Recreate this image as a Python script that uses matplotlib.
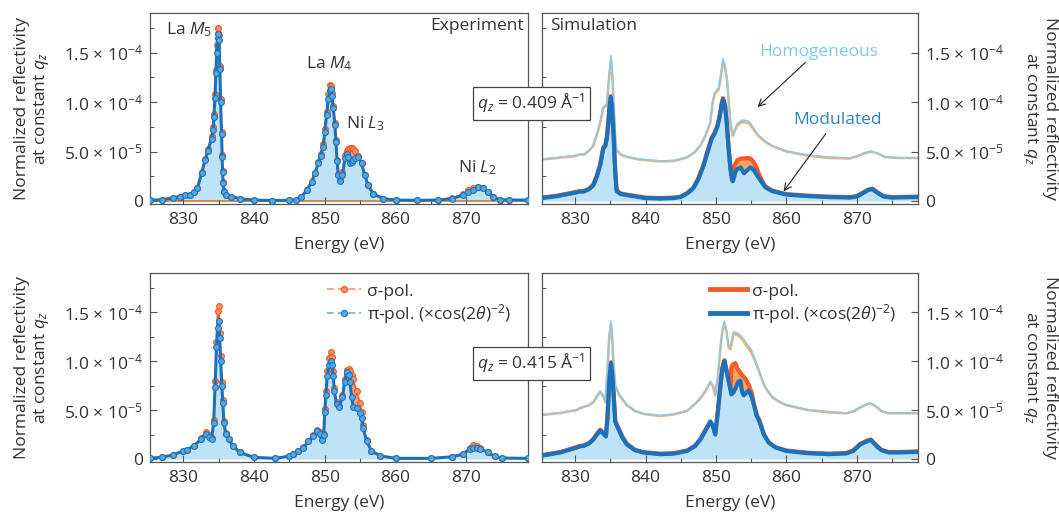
import numpy as np
import matplotlib
matplotlib.use('Agg')
import matplotlib.pyplot as plt
from matplotlib.ticker import MultipleLocator, FuncFormatter
from matplotlib.lines import Line2D

plt.rcParams['font.family'] = ['Open Sans', 'DejaVu Sans']
plt.rcParams['mathtext.fontset'] = 'custom'
plt.rcParams['mathtext.rm'] = 'Open Sans'
plt.rcParams['mathtext.it'] = 'Open Sans:italic'
plt.rcParams['mathtext.bf'] = 'Open Sans:bold'
plt.rcParams['font.size'] = 12.5

SCALE = 1e-5  # all reflectivity values below are in units of 1e-5

# ---------------- Experiment, q_z = 0.409 ----------------
E_exp_a = [825.3, 827.0, 828.5, 829.5, 830.3, 830.9, 831.5, 832.0, 832.6, 833.07, 833.5, 834.0,
           834.24, 834.34, 834.48, 834.62, 834.72, 834.85, 834.95, 835.05, 835.18, 835.28, 835.42,
           835.5, 835.56, 835.65, 835.75, 836.1, 836.8, 838.0, 840.0, 842.5, 845.0, 846.0, 846.7,
           847.43, 848.13, 848.6, 849.07, 849.4, 849.78, 850.0, 850.25, 850.5, 850.72, 850.85,
           851.0, 851.19, 851.43, 851.57, 851.75, 851.9, 852.13, 852.5, 852.84, 853.08, 853.3,
           853.54, 853.8, 854.0, 854.25, 854.7, 855.2, 855.66, 856.1, 856.84, 858.25, 860.0,
           863.0, 866.0, 868.0, 869.5, 870.3, 871.0, 871.6, 872.3, 873.0, 873.8, 874.7, 876.0, 878.7]
pi_exp_a = [0.07, 0.15, 0.3, 0.45, 0.6, 0.62, 0.9, 1.3, 2.8, 4.1, 5.1, 6.3,
            7.2, 8.5, 10.4, 12.9, 15.0, 16.5, 16.9, 16.3, 13.3, 10.0, 6.8,
            4.5, 2.9, 1.8, 0.9, 0.58, 0.45, 0.24, 0.1, 0.05, 0.07, 0.15, 0.4,
            1.1, 1.9, 2.8, 3.8, 4.6, 5.5, 7.0, 8.7, 10.3, 11.2, 11.3,
            10.6, 9.4, 7.7, 6.0, 4.0, 2.6, 2.0, 2.6, 4.3, 4.8, 4.4,
            3.8, 3.9, 4.1, 4.3, 4.5, 3.8, 2.6, 1.6, 0.75, 0.24, 0.1,
            0.07, 0.1, 0.25, 0.6, 0.95, 1.1, 1.4, 1.3, 0.9, 0.4, 0.15, 0.1, 0.1]
sig_exp_a = [0.07, 0.15, 0.3, 0.45, 0.6, 0.62, 0.9, 1.3, 2.9, 4.2, 5.3, 6.6,
             7.5, 8.8, 10.8, 13.2, 15.8, 17.0, 17.5, 16.8, 13.6, 10.3, 7.0,
             4.7, 3.0, 1.9, 1.0, 0.6, 0.45, 0.24, 0.1, 0.05, 0.07, 0.15, 0.4,
             1.1, 1.95, 2.85, 3.9, 4.8, 5.8, 7.3, 9.0, 10.8, 11.7, 11.6,
             10.9, 9.6, 7.9, 6.2, 4.1, 2.7, 2.1, 2.9, 4.7, 5.1, 5.3,
             5.4, 5.35, 5.25, 5.1, 4.6, 3.85, 2.65, 1.6, 0.75, 0.24, 0.1,
             0.07, 0.1, 0.3, 0.7, 1.1, 1.3, 1.45, 1.3, 0.9, 0.4, 0.15, 0.1, 0.1]

# ---------------- Simulation, q_z = 0.409 ----------------
E_sim_a = [825.3, 827.5, 830.0, 830.6, 831.2, 832.0, 832.6, 833.1, 833.56, 834.0, 834.3, 834.5,
           834.74, 834.9, 835.07, 835.25, 835.45, 835.6, 835.7, 835.9, 836.5, 837.35, 840.0,
           842.1, 844.0, 845.0, 846.0, 846.8, 847.5, 848.25, 849.0, 849.4, 849.8, 850.2, 850.5,
           850.8, 851.0, 851.3, 851.55, 851.8, 852.05, 852.3, 852.4, 852.8, 853.0, 853.5, 854.0,
           854.4, 854.9, 855.4, 855.85, 856.3, 857.0, 858.0, 860.0, 863.0, 866.0, 869.0, 870.0,
           871.0, 871.6, 872.2, 873.0, 873.8, 875.0, 878.7]
pi_sim_a = [0.3, 0.5, 0.85, 0.95, 0.95, 1.2, 1.6, 2.5, 3.6, 5.3, 5.6, 6.3,
            8.0, 9.6, 10.5, 9.5, 7.0, 4.5, 2.9, 1.0, 0.7, 0.6, 0.3,
            0.25, 0.3, 0.4, 0.8, 1.3, 2.2, 3.6, 5.4, 6.3, 6.8, 7.5, 8.4,
            9.7, 10.3, 9.6, 7.8, 5.3, 3.3, 2.1, 2.0, 3.0, 3.2, 3.4, 2.8,
            3.1, 3.4, 3.1, 2.6, 2.1, 1.4, 1.0, 0.65, 0.5, 0.4, 0.35, 0.45,
            0.85, 1.1, 1.2, 0.8, 0.45, 0.35, 0.4]
sig_sim_a = [0.35, 0.55, 0.9, 1.0, 1.0, 1.25, 1.7, 2.6, 3.7, 5.4, 5.7, 6.4,
             8.1, 9.7, 10.6, 9.6, 7.1, 4.6, 3.0, 1.1, 0.75, 0.65, 0.35,
             0.3, 0.35, 0.45, 0.85, 1.35, 2.3, 3.7, 5.5, 6.4, 6.9, 7.6, 8.5,
             9.8, 10.4, 9.7, 7.9, 5.4, 3.4, 2.2, 3.3, 3.8, 4.1, 4.3, 4.3,
             4.35, 4.3, 3.9, 3.2, 2.4, 1.5, 1.05, 0.7, 0.55, 0.45, 0.4, 0.5,
             0.9, 1.15, 1.25, 0.85, 0.5, 0.4, 0.45]
E_hom_a = [825.3, 827.5, 830.0, 830.7, 831.3, 832.0, 832.6, 833.1, 833.56, 834.0, 834.5, 834.8,
           835.1, 835.3, 835.45, 835.7, 835.9, 836.5, 837.35, 839.0, 842.1, 844.0, 845.9, 847.0,
           847.8, 848.5, 849.2, 849.5, 849.8, 850.4, 850.7, 851.0, 851.3, 851.6, 852.05, 852.4,
           853.0, 853.7, 854.6, 855.0, 855.5, 856.0, 857.0, 858.0, 860.0, 863.0, 866.0, 869.0,
           870.0, 871.0, 872.0, 873.0, 874.0, 876.0, 878.7]
hom_sig_a = [4.2, 4.35, 4.55, 4.7, 4.7, 5.1, 5.6, 6.7, 7.9, 9.4, 9.7, 12.2,
             14.4, 12.6, 10.2, 6.5, 5.1, 4.7, 4.45, 4.2, 4.0, 4.05, 4.4, 4.95,
             5.6, 6.6, 7.9, 9.8, 10.8, 11.3, 12.6, 14.1, 13.5, 12.0, 7.9, 6.6,
             7.6, 8.0, 7.9, 7.6, 7.1, 6.6, 6.0, 5.55, 5.0, 4.6, 4.35, 4.3,
             4.5, 4.8, 5.0, 4.8, 4.45, 4.35, 4.35]
hom_pi_a = [4.25, 4.4, 4.6, 4.75, 4.75, 5.15, 5.7, 6.8, 8.0, 9.5, 9.8, 12.4,
            14.7, 12.8, 10.3, 6.6, 5.2, 4.75, 4.5, 4.25, 4.05, 4.1, 4.45, 5.0,
            5.65, 6.7, 8.0, 9.9, 10.9, 11.5, 12.8, 14.4, 13.7, 12.2, 8.0, 6.7,
            7.8, 8.2, 8.1, 7.8, 7.2, 6.7, 6.05, 5.6, 5.05, 4.65, 4.45, 4.35,
            4.55, 4.85, 5.05, 4.8, 4.45, 4.35, 4.35]

# ---------------- Experiment, q_z = 0.415 ----------------
E_exp_b = [825.3, 827.0, 828.5, 830.0, 830.5, 831.5, 832.5, 833.2, 833.7, 834.0, 834.3, 834.5,
           834.7, 834.85, 835.0, 835.15, 835.3, 835.45, 835.6, 835.75, 836.0, 836.5, 837.0,
           838.0, 840.0, 843.0, 845.0, 845.5, 846.2, 846.95, 847.7, 848.3, 848.95, 849.3,
           849.65, 849.85, 850.0, 850.15, 850.34, 850.6, 850.86, 851.05, 851.2, 851.35, 851.67,
           852.0, 852.5, 852.8, 853.08, 853.2, 853.45, 853.55, 853.8, 854.0, 854.5, 855.0,
           855.2, 855.4, 855.9, 856.6, 857.8, 860.0, 865.0, 868.0, 869.5, 870.5, 871.0, 871.5,
           872.0, 873.0, 874.0, 875.0, 878.7]
pi_exp_b = [0.07, 0.2, 0.4, 0.84, 0.94, 1.34, 2.0, 2.6, 2.3, 2.0, 3.7, 7.4,
            11.4, 13.4, 14.1, 12.4, 10.0, 7.5, 5.7, 3.7, 2.6, 2.0, 1.34,
            0.67, 0.17, 0.07, 0.3, 0.5, 0.8, 1.17, 1.8, 2.4, 2.85, 2.6,
            1.9, 2.5, 4.85, 6.5, 8.5, 9.6, 10.0, 9.6, 8.5, 6.9, 5.6,
            5.3, 6.3, 7.9, 8.7, 8.9, 8.6, 7.9, 6.3, 5.35, 5.2, 4.7,
            4.2, 3.2, 1.84, 0.84, 0.33, 0.07, 0.07, 0.23, 0.5, 1.0, 1.17, 1.17,
            1.07, 0.67, 0.27, 0.1, 0.07]
sig_exp_b = [0.07, 0.2, 0.4, 0.84, 0.94, 1.34, 2.1, 2.75, 2.5, 2.1, 4.0, 8.0,
             12.0, 15.1, 15.6, 12.9, 10.5, 7.9, 6.0, 3.9, 2.7, 2.0, 1.34,
             0.67, 0.17, 0.07, 0.3, 0.5, 0.8, 1.2, 1.85, 2.5, 3.0, 2.75,
             2.0, 2.6, 5.1, 6.9, 9.0, 10.3, 10.94, 10.4, 9.0, 7.3, 5.8,
             5.4, 6.5, 8.2, 8.9, 9.1, 9.2, 9.0, 8.6, 8.2, 6.9, 5.7,
             4.85, 3.5, 1.9, 0.84, 0.33, 0.07, 0.07, 0.25, 0.55, 1.15, 1.4, 1.35,
             1.15, 0.7, 0.27, 0.1, 0.07]

# ---------------- Simulation, q_z = 0.415 ----------------
E_sim_b = [825.3, 827.9, 830.2, 830.7, 831.2, 832.0, 832.6, 833.1, 833.56, 834.0, 834.37, 834.6,
           834.85, 835.1, 835.3, 835.45, 835.7, 836.2, 836.7, 837.35, 838.5, 839.7, 842.1,
           844.0, 845.9, 847.0, 847.8, 848.5, 849.2, 849.6, 849.9, 850.3, 850.6, 850.9, 851.2,
           851.5, 851.8, 852.05, 852.2, 852.5, 852.76, 853.0, 853.2, 853.47, 853.7, 853.94,
           854.2, 854.65, 855.1, 855.4, 855.8, 856.2, 856.8, 857.5, 858.5, 860.0, 863.0, 866.0,
           868.5, 869.5, 870.5, 871.5, 872.0, 872.8, 873.5, 874.5, 876.0, 878.7]
pi_sim_b = [0.35, 0.67, 1.17, 1.3, 1.33, 1.6, 2.0, 2.5, 2.9, 2.6, 2.3, 4.2,
            8.0, 9.8, 8.5, 6.8, 3.8, 3.0, 2.2, 1.5, 0.9, 0.67, 0.5,
            0.55, 0.83, 1.3, 2.0, 2.9, 3.8, 3.3, 2.5, 5.0, 7.2, 9.2, 10.0,
            9.0, 8.0, 7.1, 6.6, 6.8, 7.2, 7.6, 7.9, 8.0, 6.9, 6.5,
            6.7, 7.0, 6.3, 5.5, 4.4, 3.8, 2.5, 1.67, 1.17, 0.83, 0.6, 0.5,
            0.57, 0.83, 1.5, 1.83, 1.95, 1.33, 0.9, 0.67, 0.67, 0.73]
sig_sim_b = [0.4, 0.72, 1.22, 1.35, 1.38, 1.65, 2.05, 2.6, 3.0, 2.7, 2.4, 4.3,
             8.1, 9.9, 8.6, 6.9, 3.9, 3.1, 2.3, 1.55, 0.95, 0.7, 0.55,
             0.6, 0.88, 1.35, 2.05, 2.95, 3.85, 3.35, 2.55, 5.1, 7.3, 9.3, 10.1,
             9.1, 8.1, 7.2, 9.4, 9.7, 9.8, 9.3, 9.1, 8.8, 8.6, 8.4,
             8.2, 7.6, 6.7, 5.6, 4.5, 3.9, 2.55, 1.7, 1.2, 0.87, 0.65, 0.55,
             0.62, 0.88, 1.55, 1.9, 2.0, 1.38, 0.95, 0.72, 0.72, 0.78]
E_hom_b = [825.3, 827.9, 830.2, 830.7, 831.2, 832.0, 832.6, 833.1, 833.56, 834.0, 834.3, 834.6,
           834.85, 835.1, 835.3, 835.45, 835.7, 836.3, 837.35, 838.5, 839.7, 842.1, 844.0,
           845.9, 847.0, 847.8, 848.5, 849.2, 849.6, 849.9, 850.3, 850.6, 850.9, 851.2, 851.5,
           851.8, 852.05, 852.5, 853.0, 853.7, 854.4, 855.0, 855.4, 856.0, 856.5, 857.0, 858.0,
           859.0, 860.0, 863.0, 866.0, 868.5, 869.5, 870.5, 871.5, 872.0, 872.8, 873.5, 874.5,
           876.0, 878.7]
hom_sig_b = [4.5, 4.7, 5.0, 5.2, 5.3, 5.5, 5.8, 6.4, 6.85, 6.4, 5.8, 9.2,
             12.5, 13.8, 12.0, 9.8, 7.5, 6.5, 5.5, 4.9, 4.6, 4.4, 4.55,
             4.9, 5.6, 6.2, 6.9, 7.85, 7.4, 6.5, 8.5, 11.0, 13.0, 13.9, 13.0,
             11.4, 11.2, 12.8, 12.7, 12.3, 11.5, 10.9, 10.3, 9.2, 8.2, 7.3, 6.3,
             5.85, 5.5, 5.0, 4.77, 4.67, 4.85, 5.27, 5.6, 5.67, 5.33, 4.9, 4.67,
             4.67, 4.67]
hom_pi_b = [4.55, 4.75, 5.05, 5.25, 5.35, 5.55, 5.85, 6.5, 6.95, 6.5, 5.9, 9.3,
            12.7, 14.1, 12.2, 9.9, 7.6, 6.6, 5.55, 4.95, 4.65, 4.45, 4.6,
            4.95, 5.65, 6.3, 7.0, 7.95, 7.5, 6.6, 8.6, 11.1, 13.2, 14.1, 13.2,
            11.6, 11.4, 13.0, 12.9, 12.5, 11.8, 11.2, 10.5, 9.3, 8.3, 7.35, 6.35,
            5.9, 5.55, 5.05, 4.85, 4.72, 4.9, 5.32, 5.65, 5.72, 5.38, 4.95, 4.7,
            4.7, 4.7]

# ---------------- styling ----------------
PI_C = '#1b72bb'
PI_MF = '#58a8e0'
SIG_C = '#f15a29'
SIG_MF = '#f79060'
LIGHT = '#bfe3f6'
ORFILL = '#f7a35c'
HOM_PI = '#86cdee'
HOM_SIG = '#f6ac72'
TXT = '#333333'
SPINE = '#555555'
FS = 12.5

fig = plt.figure(figsize=(10.59, 5.14), dpi=100)
ax_tl = fig.add_axes([0.1416, 0.6031, 0.3569, 0.3716])
ax_tr = fig.add_axes([0.5118, 0.6031, 0.3551, 0.3716])
ax_bl = fig.add_axes([0.1416, 0.1012, 0.3569, 0.3677])
ax_br = fig.add_axes([0.5118, 0.1012, 0.3551, 0.3677])


def yfmt(v, pos):
    if abs(v) < 1e-12:
        return '0'
    e = int(np.floor(np.log10(abs(v)) + 1e-9))
    m = v / 10 ** e
    return '%.1f × 10$^{%d}$' % (m, e)


YLAB = 'Normalized reflectivity\nat constant $q_z$'


def style(ax, side):
    ax.set_xlim(825.3, 878.7)
    ax.set_ylim(-0.3e-5, 1.9e-4)
    ax.xaxis.set_major_locator(MultipleLocator(10))
    ax.xaxis.set_minor_locator(MultipleLocator(5))
    ax.yaxis.set_major_locator(MultipleLocator(5e-5))
    ax.yaxis.set_minor_locator(MultipleLocator(2.5e-5))
    ax.yaxis.set_major_formatter(FuncFormatter(yfmt))
    ax.tick_params(which='both', direction='in', color=SPINE, labelcolor=TXT, labelsize=FS)
    ax.tick_params(which='major', length=5, width=0.8)
    ax.tick_params(which='minor', length=3, width=0.8)
    ax.tick_params(axis='x', top=False, bottom=True, pad=6)
    left = side == 'left'
    ax.tick_params(axis='y', left=left, right=not left, labelleft=left,
                   labelright=not left, pad=5)
    for s in ax.spines.values():
        s.set_color(SPINE)
        s.set_linewidth(0.9)
    ax.set_xlabel('Energy (eV)', fontsize=FS, color=TXT, labelpad=6)
    if left:
        ax.set_ylabel(YLAB, fontsize=FS, color=TXT, ha='center', va='center',
                      multialignment='center', linespacing=1.15)
        ax.yaxis.set_label_coords(-0.31, 0.5)
    else:
        ax.yaxis.set_label_position('right')
        ax.set_ylabel(YLAB, fontsize=FS, color=TXT, rotation=270, ha='center',
                      va='center', multialignment='center', linespacing=1.15)
        ax.yaxis.set_label_coords(1.322, 0.5)


def draw_exp(ax, E, pi, sig):
    E = np.asarray(E)
    p = np.asarray(pi) * SCALE
    s = np.asarray(sig) * SCALE
    ax.fill_between(E, 0, p, color=LIGHT, lw=0, zorder=1)
    ax.fill_between(E, p, s, where=s > p, interpolate=True, color=ORFILL, lw=0, zorder=1.2)
    ax.plot(E, s, color=SIG_C, lw=1.2, marker='o', ms=4.2, mfc=SIG_MF, mec=SIG_C,
            mew=0.8, zorder=2)
    ax.plot(E, p, color=PI_C, lw=2.2, marker='o', ms=4.2, mfc=PI_MF, mec=PI_C,
            mew=0.8, zorder=3)


def draw_sim(ax, E, pi, sig, Eh, hs, hp):
    E = np.asarray(E)
    p = np.asarray(pi) * SCALE
    s = np.asarray(sig) * SCALE
    ax.fill_between(E, 0, p, color=LIGHT, lw=0, zorder=1)
    ax.fill_between(E, p, s, where=s > p, interpolate=True, color=ORFILL, lw=0, zorder=1.2)
    ax.plot(E, s, color=SIG_C, lw=3.0, zorder=2, solid_joinstyle='round')
    ax.plot(E, p, color=PI_C, lw=3.0, zorder=3, solid_joinstyle='round')
    ax.plot(Eh, np.asarray(hs) * SCALE, color=HOM_SIG, lw=1.8, zorder=2)
    ax.plot(Eh, np.asarray(hp) * SCALE, color=HOM_PI, lw=1.1, zorder=2.5)


draw_exp(ax_tl, E_exp_a, pi_exp_a, sig_exp_a)
ax_tl.axhline(0, color='#d9813f', lw=1.3, zorder=1.5)
draw_sim(ax_tr, E_sim_a, pi_sim_a, sig_sim_a, E_hom_a, hom_sig_a, hom_pi_a)
draw_exp(ax_bl, E_exp_b, pi_exp_b, sig_exp_b)
draw_sim(ax_br, E_sim_b, pi_sim_b, sig_sim_b, E_hom_b, hom_sig_b, hom_pi_b)

style(ax_tl, 'left')
style(ax_bl, 'left')
style(ax_tr, 'right')
style(ax_br, 'right')

# panel titles
ax_tl.text(0.989, 0.975, 'Experiment', transform=ax_tl.transAxes, ha='right', va='top',
           fontsize=FS, color=TXT)
ax_tr.text(0.021, 0.975, 'Simulation', transform=ax_tr.transAxes, ha='left', va='top',
           fontsize=FS, color=TXT)

# edge labels
for txt, x, y in [('La $M_5$', 830.8, 17.3), ('La $M_4$', 850.65, 13.9),
                  ('Ni $L_3$', 855.7, 7.8), ('Ni $L_2$', 871.6, 3.4)]:
    ax_tl.text(x, y * SCALE, txt, ha='center', va='center', fontsize=FS, color=TXT)

# Homogeneous / Modulated annotations
ax_tr.text(864.6, 15.1e-5, 'Homogeneous', ha='center', va='center', fontsize=FS,
           color='#7ccbee')
ax_tr.annotate('', xy=(855.9, 9.5e-5), xytext=(862.7, 14.0e-5),
               arrowprops=dict(arrowstyle='->', color='#222222', lw=0.8,
                               shrinkA=0, shrinkB=0))
ax_tr.text(867.3, 8.2e-5, 'Modulated', ha='center', va='center', fontsize=FS,
           color='#2a85c6')
ax_tr.annotate('', xy=(859.6, 0.97e-5), xytext=(865.6, 6.8e-5),
               arrowprops=dict(arrowstyle='->', color='#222222', lw=0.8,
                               shrinkA=0, shrinkB=0))

# legends
h_exp = [Line2D([0], [0], color='#f5a48a', ls=(0, (3.5, 2)), lw=1.4, marker='o', ms=4.4,
                mfc=SIG_MF, mec=SIG_C, mew=0.8),
         Line2D([0], [0], color='#7fbde8', ls=(0, (3.5, 2)), lw=1.4, marker='o', ms=4.4,
                mfc=PI_MF, mec=PI_C, mew=0.8)]
labels = ['σ-pol.', r'π-pol. (×cos(2$\theta$)$^{-2}$)']
ax_bl.legend(h_exp, labels, loc='upper left', bbox_to_anchor=(0.44, 1.0), frameon=False,
             fontsize=FS, handlelength=2.0, handletextpad=0.3, labelspacing=0.15,
             numpoints=1, borderaxespad=0.2, labelcolor=TXT)
h_sim = [Line2D([0], [0], color=SIG_C, lw=3.5), Line2D([0], [0], color=PI_C, lw=3.5)]
ax_br.legend(h_sim, labels, loc='upper left', bbox_to_anchor=(0.42, 1.0), frameon=False,
             fontsize=FS, handlelength=2.1, handletextpad=0.3, labelspacing=0.15,
             borderaxespad=0.2, labelcolor=TXT)

# q_z boxes
for y, q in [(0.7986, '0.409'), (0.2928, '0.415')]:
    fig.text(0.5019, y, r'$q_z$ = ' + q + r' Å$^{-1}$', ha='center', va='center',
             fontsize=FS, color=TXT, zorder=10,
             bbox=dict(boxstyle='square,pad=0.28', fc='white', ec='#444444', lw=0.9))

fig.savefig('out.png', dpi=100)
